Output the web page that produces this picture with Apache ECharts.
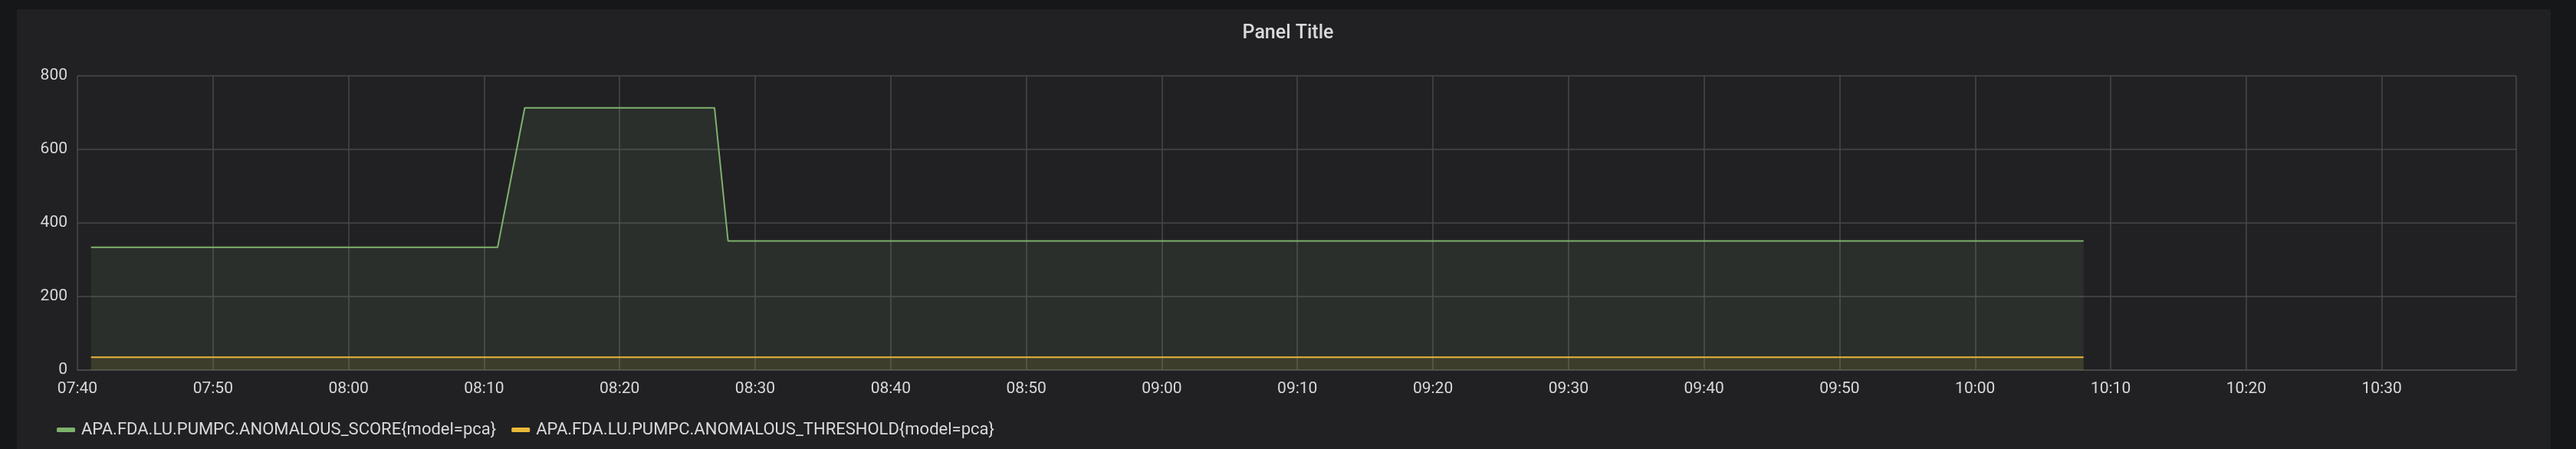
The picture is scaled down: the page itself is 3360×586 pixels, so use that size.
<!DOCTYPE html>
<html>
<head>
<meta charset="utf-8">
<script src="https://cdn.jsdelivr.net/npm/echarts@6/dist/echarts.min.js"></script>
<style>
html,body{margin:0;padding:0;background:#161719;}
#chart{width:3360px;height:586px;}
</style>
</head>
<body>
<div id="chart"></div>
<script>
// ---- data ----
const seriesNames = [
  'APA.FDA.LU.PUMPC.ANOMALOUS_SCORE{model=pca}',
  'APA.FDA.LU.PUMPC.ANOMALOUS_THRESHOLD{model=pca}'
];
// times (HH:MM) where the score changes, and the score values there
const scoreTimes  = ['07:41', '08:11', '08:13', '08:27', '08:28', '10:08'];
const scoreValues = [334, 334, 713, 713, 351, 351];
const thresholdTimes  = ['07:41', '10:08'];
const thresholdValues = [35, 35];
const xTickLabels = ['07:40','07:50','08:00','08:10','08:20','08:30','08:40','08:50','09:00','09:10','09:20','09:30','09:40','09:50','10:00','10:10','10:20','10:30'];
const yTickLabels = ['0','200','400','600','800'];
const xMinTime = '07:40';
const xMaxTime = '10:39:55';

function toMin(t){
  const p = t.split(':').map(Number);
  return p[0]*60 + p[1] + (p[2]||0)/60;
}
function fmt(m){
  const h = Math.floor(m/60), mm = Math.round(m - h*60);
  return String(h).padStart(2,'0') + ':' + String(mm).padStart(2,'0');
}
const scoreData = scoreTimes.map((t,i)=>[toMin(t), scoreValues[i]]);
const thresholdData = thresholdTimes.map((t,i)=>[toMin(t), thresholdValues[i]]);

const textColor = '#d8d9da';
const gridColor = '#48484b';
const font = 'Roboto';

const chart = echarts.init(document.getElementById('chart'), null, {renderer:'canvas'});
chart.setOption({
  animation: false,
  backgroundColor: '#161719',
  textStyle: {fontFamily: font},
  graphic: [{
    type: 'rect',
    z: -10,
    silent: true,
    shape: {x: 22, y: 12, width: 3305, height: 600, r: 3},
    style: {fill: '#212124'}
  }],
  title: {
    text: 'Panel Title',
    left: 'center',
    top: 26,
    textStyle: {color: textColor, fontSize: 25, fontWeight: 500, fontFamily: font}
  },
  legend: {
    left: 69,
    top: 545,
    icon: 'roundRect',
    itemWidth: 24,
    itemHeight: 6,
    itemGap: 20,
    textStyle: {color: textColor, fontSize: 22, fontFamily: font, padding: [0,0,0,3]},
    data: seriesNames
  },
  grid: {left: 101, right: 78, top: 99, bottom: 103},
  xAxis: {
    type: 'value',
    min: toMin(xMinTime),
    max: toMin(xMaxTime),
    interval: 10,
    axisLine: {show: true, lineStyle: {color: gridColor, width: 2}},
    axisTick: {show: false},
    axisLabel: {
      color: textColor, fontSize: 21, fontFamily: font, margin: 14,
      showMaxLabel: false,
      formatter: function(v){ const s = fmt(v); return xTickLabels.indexOf(s) >= 0 ? s : ''; }
    },
    splitLine: {show: true, lineStyle: {color: gridColor, width: 1.5}}
  },
  yAxis: {
    type: 'value',
    min: 0,
    max: 800,
    interval: 200,
    axisLine: {show: false},
    axisTick: {show: false},
    axisLabel: {
      color: textColor, fontSize: 21, fontFamily: font, margin: 13,
      formatter: function(v){ const s = String(v); return yTickLabels.indexOf(s) >= 0 ? s : ''; }
    },
    splitLine: {show: true, lineStyle: {color: gridColor, width: 1.5}}
  },
  series: [
    {
      name: seriesNames[0],
      type: 'line',
      data: scoreData,
      showSymbol: false,
      color: '#7eb26d',
      lineStyle: {width: 2, color: '#7eb26d'},
      areaStyle: {color: '#7eb26d', opacity: 0.1}
    },
    {
      name: seriesNames[1],
      type: 'line',
      data: thresholdData,
      showSymbol: false,
      color: '#eab839',
      lineStyle: {width: 2, color: '#eab839'},
      areaStyle: {color: '#eab839', opacity: 0.1}
    }
  ]
});
</script>
</body>
</html>
